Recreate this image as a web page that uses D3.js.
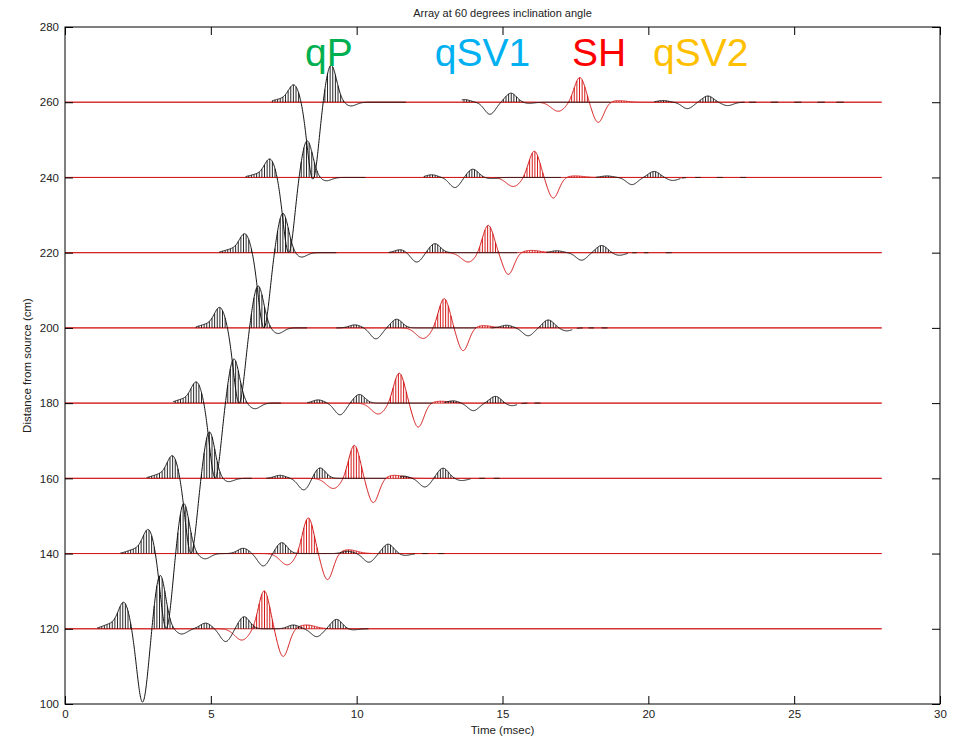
<!DOCTYPE html>
<html>
<head>
<meta charset="utf-8">
<script src="https://cdn.jsdelivr.net/npm/d3@7"></script>
<style>
  body { margin: 0; background: #fff; }
  text { font-family: "Liberation Sans", Arial, sans-serif; }
</style>
</head>
<body>
<svg id="chart" width="959" height="739"></svg>
<script>
// Receiver offsets (cm) and axis ticks
const distances = [120, 140, 160, 180, 200, 220, 240, 260];
const xTicks = [0, 5, 10, 15, 20, 25, 30];
const yTicks = [100, 120, 140, 160, 180, 200, 220, 240, 260, 280];

// Wave-type labels
const phaseNames = ["qP", "qSV1", "SH", "qSV2"];
const phaseColors = ["#00b050", "#00b0f0", "#ff0000", "#ffc000"];

// Wavelet lobes per trace: [time (ms), amplitude (cm), optional width (ms)]
const qPLobes = [
  [[1.55, 1.2, 0.25], [2.02, 6.9], [2.66, -19.6], [3.26, 14.3], [4.0, -1.4]],
  [[2.40, 1.1, 0.25], [2.86, 6.3], [3.47, -20.0], [4.07, 13.4], [4.8, -1.4]],
  [[3.23, 1.0, 0.25], [3.69, 5.9], [4.32, -20.0], [4.95, 12.4], [5.6, -0.9]],
  [[4.05, 1.0, 0.25], [4.51, 5.5], [5.15, -20.0], [5.79, 11.8], [6.51, -1.5]],
  [[4.86, 0.9, 0.25], [5.31, 5.3], [5.97, -20.0], [6.62, 11.2], [7.3, -1.5]],
  [[5.72, 0.9, 0.25], [6.17, 4.9], [6.82, -20.0], [7.47, 10.5], [8.1, -1.2]],
  [[6.58, 0.8, 0.25], [7.03, 4.8], [7.67, -20.0], [8.30, 9.8], [8.95, -0.9]],
  [[7.40, 0.8, 0.25], [7.85, 4.5], [8.50, -20.5], [9.12, 9.9], [9.8, -1.0]]
];
const qSV1Lobes = [
  [[4.82, 1.5], [5.51, -3.4], [6.14, 3.2]],
  [[6.11, 1.4], [6.80, -3.3], [7.43, 2.9]],
  [[7.37, 0.8], [8.19, -3.1], [8.74, 2.8]],
  [[8.68, 0.85], [9.43, -3.1], [10.09, 2.3]],
  [[9.94, 0.8], [10.66, -2.9], [11.37, 2.3]],
  [[11.50, 0.8], [12.06, -2.5], [12.68, 2.4]],
  [[12.57, 0.7], [13.37, -2.7], [13.98, 2.2], [14.6, -0.3]],
  [[13.70, 0.7], [14.57, -3.2], [15.29, 2.4], [15.9, -0.3]]
];
const qSV2Lobes = [
  [[7.83, 1.0], [8.63, -2.1], [9.31, 2.5], [9.86, -0.3]],
  [[9.70, 0.6], [10.42, -2.3], [11.08, 2.5], [11.65, -0.5]],
  [[11.60, 0.6], [12.34, -2.3], [12.96, 2.7], [13.6, -0.6]],
  [[13.30, 0.6], [14.00, -2.0], [14.76, 1.8], [15.31, -0.7]],
  [[15.14, 0.7], [15.88, -2.1], [16.57, 2.1], [17.2, -0.8]],
  [[16.86, 0.5], [17.71, -2.0], [18.40, 1.9], [19.0, -0.7]],
  [[18.58, 0.4], [19.44, -1.9], [20.20, 1.6], [20.84, -0.8]],
  [[20.50, 0.45], [21.34, -1.7], [22.04, 1.65], [22.72, -0.9]]
];
const shLobes = [
  [[6.06, -3.0, 0.24], [6.83, 10.1], [7.48, -7.4], [8.28, 1.0, 0.3]],
  [[7.62, -3.0, 0.24], [8.34, 9.5], [9.00, -7.0], [9.71, 1.0, 0.3]],
  [[9.20, -2.7, 0.24], [9.92, 8.8], [10.57, -6.5], [11.3, 0.8, 0.3]],
  [[10.74, -2.9, 0.24], [11.46, 8.0], [12.11, -6.4], [12.9, 0.5, 0.3]],
  [[12.28, -2.8, 0.24], [13.00, 7.8], [13.65, -6.1], [14.34, 0.6, 0.3]],
  [[13.83, -2.5, 0.24], [14.51, 7.3], [15.20, -5.8], [16.0, 0.6, 0.3]],
  [[15.37, -2.4, 0.24], [16.09, 7.0], [16.74, -5.5], [17.48, 0.4, 0.3]],
  [[16.91, -2.4, 0.24], [17.65, 6.6], [18.28, -5.4], [18.96, 0.4, 0.3]]
];

// Time windows (ms) in which the P-SV trace is recorded
const blackSegments = [
  [[1.1, 10.4]],
  [[1.9, 12.0], [12.25, 12.45], [12.8, 13.0]],
  [[2.8, 6.4], [6.9, 11.0], [11.5, 13.9], [14.2, 14.4], [14.7, 14.9]],
  [[3.7, 7.4], [8.3, 12.6], [13.0, 15.5], [15.65, 15.85], [16.1, 16.3]],
  [[4.5, 8.3], [9.3, 14.1], [14.6, 17.4], [17.55, 17.75], [17.95, 18.15], [18.4, 18.6]],
  [[5.3, 9.3], [11.1, 15.5], [16.5, 19.3], [19.45, 19.6], [19.85, 20.0], [20.6, 20.8]],
  [[6.2, 10.3], [12.3, 17.0], [18.2, 21.1], [21.15, 21.3], [21.6, 21.8], [22.35, 22.55], [23.15, 23.35]],
  [[7.1, 11.7], [13.6, 18.7], [20.2, 23.3], [23.45, 23.7], [24.2, 24.45], [25.0, 25.25], [25.8, 26.05], [26.45, 26.7]]
];

const recordEnd = 28;   // ms, length of every record

// ---- layout ----
const svg = d3.select("#chart");
const x = d3.scaleLinear().domain([0, 30]).range([65, 940]);
const y = d3.scaleLinear().domain([100, 280]).range([704, 27]);
const SIGMA = 0.19;
const DT = 0.01;        // curve sampling (ms)
const HATCH_DT = 0.09;  // spacing of the variable-area fill lines (ms)

function traceValue(lobes, t) {
  let v = 0;
  for (const [t0, a, w] of lobes) {
    const s = w || SIGMA;
    v += a * Math.exp(-((t - t0) * (t - t0)) / (2 * s * s));
  }
  return v;
}
const inSegments = (segs, t) => segs.some(([a, b]) => t >= a && t <= b);

svg.append("rect").attr("width", 959).attr("height", 739).attr("fill", "#fff");

svg.append("defs").append("clipPath").attr("id", "plotClip")
  .append("rect").attr("x", x(0)).attr("y", y(280))
  .attr("width", x(30) - x(0)).attr("height", y(100) - y(280));

const plot = svg.append("g").attr("clip-path", "url(#plotClip)");

const timeGrid = d3.range(0, recordEnd + DT / 2, DT);
const hatchGrid = d3.range(0, recordEnd, HATCH_DT);

distances.forEach((dist, i) => {
  const pLobes = [...qPLobes[i], ...qSV1Lobes[i], ...qSV2Lobes[i]];
  const sLobes = shLobes[i];
  const segs = blackSegments[i];
  const g = plot.append("g").attr("class", "trace");

  // zero line of the trace
  g.append("line")
    .attr("x1", x(0)).attr("x2", x(recordEnd))
    .attr("y1", y(dist)).attr("y2", y(dist))
    .attr("stroke", "#d03030").attr("stroke-width", 1);

  // SH component (red): variable-area lines then wiggle
  const shPts = timeGrid.map(t => ({ t, v: traceValue(sLobes, t) }));
  const shHatch = hatchGrid.map(t => ({ t, v: traceValue(sLobes, t) })).filter(d => d.v > 0.08);
  g.append("g").selectAll("line").data(shHatch).join("line")
    .attr("x1", d => x(d.t)).attr("x2", d => x(d.t))
    .attr("y1", y(dist)).attr("y2", d => y(dist + d.v))
    .attr("stroke", "#d00000").attr("stroke-width", 0.9);
  g.append("path").datum(shPts)
    .attr("fill", "none").attr("stroke", "#d41010").attr("stroke-width", 1)
    .attr("d", d3.line().x(d => x(d.t)).y(d => y(dist + d.v)));

  // P-SV component (black)
  const pPts = timeGrid.map(t => ({ t, v: traceValue(pLobes, t) }));
  const pHatch = hatchGrid.filter(t => inSegments(segs, t))
    .map(t => ({ t, v: traceValue(pLobes, t) })).filter(d => d.v > 0.08);
  g.append("g").selectAll("line").data(pHatch).join("line")
    .attr("x1", d => x(d.t)).attr("x2", d => x(d.t))
    .attr("y1", y(dist)).attr("y2", d => y(dist + d.v))
    .attr("stroke", "#111").attr("stroke-width", 0.9);
  g.append("path").datum(pPts)
    .attr("fill", "none").attr("stroke", "#111").attr("stroke-width", 1)
    .attr("d", d3.line().defined(d => inSegments(segs, d.t))
      .x(d => x(d.t)).y(d => y(dist + d.v)));
});

// ---- axes (ticks pointing inward on all four sides) ----
const TICK = 8;
function styleAxis(sel) {
  sel.select(".domain").remove();
  sel.selectAll(".tick line").attr("stroke", "#000");
  sel.selectAll(".tick text").attr("fill", "#222")
    .style("font-family", "'Liberation Sans', Arial, sans-serif").style("font-size", "11.5px");
}
svg.append("g").attr("transform", `translate(0,${y(100)})`)
  .call(d3.axisBottom(x).tickValues(xTicks).tickFormat(d3.format("d"))
    .tickSizeInner(-TICK).tickSizeOuter(0).tickPadding(6)).call(styleAxis);
svg.append("g").attr("transform", `translate(0,${y(280)})`)
  .call(d3.axisTop(x).tickValues(xTicks).tickFormat("")
    .tickSizeInner(-TICK).tickSizeOuter(0)).call(styleAxis);
svg.append("g").attr("transform", `translate(${x(0)},0)`)
  .call(d3.axisLeft(y).tickValues(yTicks).tickFormat(d3.format("d"))
    .tickSizeInner(-TICK).tickSizeOuter(0).tickPadding(6)).call(styleAxis);
svg.append("g").attr("transform", `translate(${x(30)},0)`)
  .call(d3.axisRight(y).tickValues(yTicks).tickFormat("")
    .tickSizeInner(-TICK).tickSizeOuter(0)).call(styleAxis);

svg.append("rect")
  .attr("x", x(0)).attr("y", y(280))
  .attr("width", x(30) - x(0)).attr("height", y(100) - y(280))
  .attr("fill", "none").attr("stroke", "#000").attr("stroke-width", 1);

// ---- titles ----
svg.append("text")
  .attr("x", (x(0) + x(30)) / 2).attr("y", 17)
  .attr("text-anchor", "middle").attr("font-size", "11px").attr("fill", "#222")
  .text("Array at 60 degrees inclination angle");
svg.append("text")
  .attr("x", (x(0) + x(30)) / 2).attr("y", 734)
  .attr("text-anchor", "middle").attr("font-size", "11.5px").attr("fill", "#222")
  .text("Time (msec)");
svg.append("text")
  .attr("transform", `translate(31,${(y(100) + y(280)) / 2}) rotate(-90)`)
  .attr("text-anchor", "middle").attr("font-size", "11.5px").attr("fill", "#222")
  .text("Distance from source (cm)");

// ---- wave-type labels ----
const labelAnchors = [[8.23, 269.6], [12.68, 269.6], [17.38, 269.6], [20.16, 269.6]];
svg.append("g").selectAll("text").data(phaseNames).join("text")
  .attr("x", (d, i) => x(labelAnchors[i][0]))
  .attr("y", (d, i) => y(labelAnchors[i][1]))
  .attr("font-size", "39px")
  .attr("fill", (d, i) => phaseColors[i])
  .text(d => d);
</script>
</body>
</html>
